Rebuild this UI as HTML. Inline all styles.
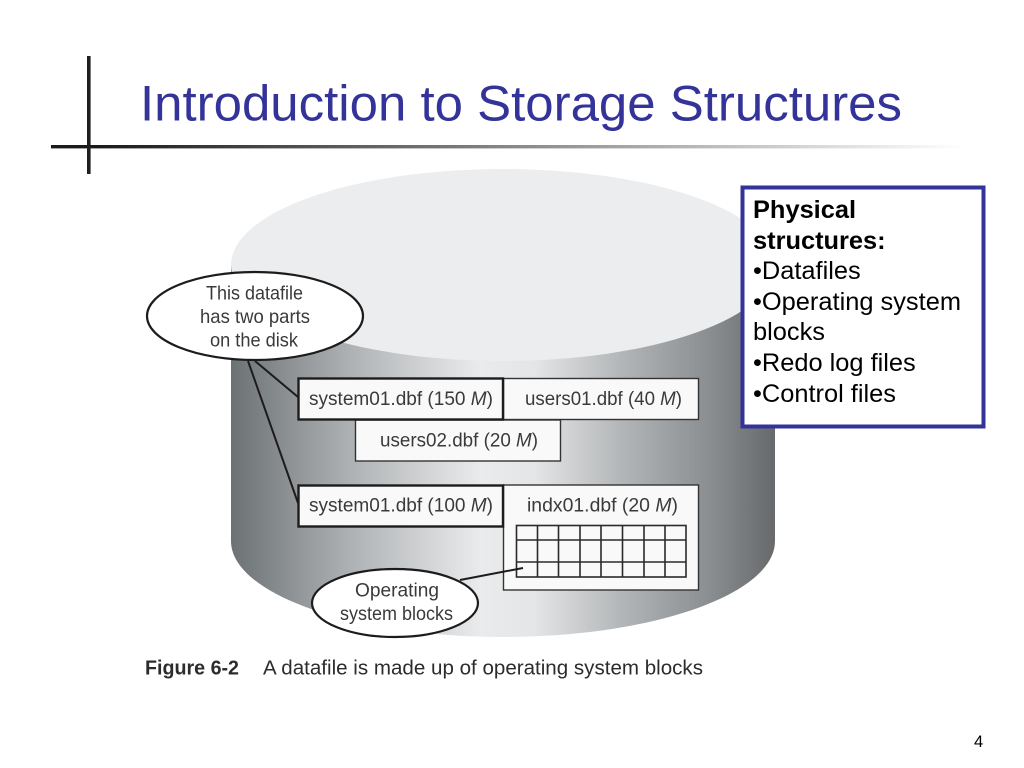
<!DOCTYPE html>
<html>
<head>
<meta charset="utf-8">
<style>
html,body{margin:0;padding:0;background:#fff;width:1024px;height:768px;overflow:hidden}
svg{display:block}
.fig{font-family:"Liberation Sans",sans-serif;font-size:19.5px;fill:#3a3a3a}
.b{font-family:"Liberation Sans",sans-serif;font-size:25.4px;fill:#000}
</style>
</head>
<body>
<svg width="1024" height="768" viewBox="0 0 1024 768" xmlns="http://www.w3.org/2000/svg">
<defs>
<linearGradient id="cyl" x1="231" x2="775" y1="0" y2="0" gradientUnits="userSpaceOnUse">
<stop offset="0" stop-color="#6c7173"/>
<stop offset=".13" stop-color="#94989a"/>
<stop offset=".24" stop-color="#b4b7b9"/>
<stop offset=".46" stop-color="#eaebec"/>
<stop offset=".56" stop-color="#e4e5e6"/>
<stop offset=".72" stop-color="#b2b5b7"/>
<stop offset=".88" stop-color="#8a8e90"/>
<stop offset="1" stop-color="#67696b"/>
</linearGradient>
<linearGradient id="rule" x1="51" x2="965" y1="0" y2="0" gradientUnits="userSpaceOnUse">
<stop offset="0" stop-color="#1a1a1a"/>
<stop offset=".05" stop-color="#1a1a1a"/>
<stop offset="1" stop-color="#ffffff"/>
</linearGradient>
</defs>

<rect x="51" y="145" width="914" height="3.4" fill="url(#rule)"/>
<rect x="87" y="56" width="3.6" height="118" fill="#1f1f1f"/>
<text x="140" y="120.500" font-family="'Liberation Sans',sans-serif" font-size="50" fill="#333399" textLength="762" lengthAdjust="spacingAndGlyphs">Introduction to Storage Structures</text>

<path d="M231 265V541C231 594 353 637 503 637S775 594 775 541V265Z" fill="url(#cyl)"/>
<ellipse cx="503" cy="265" rx="272" ry="96" fill="#ecedef"/>

<g stroke="#333" stroke-width="1.4" fill="#f9f9fa">
<rect x="503.500" y="378.500" width="195" height="41"/>
<rect x="355.500" y="420" width="205" height="41"/>
<rect x="503.500" y="485" width="195" height="105"/>
</g>
<g stroke="#1c1c1c" stroke-width="2.4" fill="#f9f9fa">
<rect x="298.500" y="378.500" width="204.500" height="41"/>
<rect x="298.500" y="485.500" width="204.500" height="41"/>
</g>

<g stroke="#2a2a2a" stroke-width="1.600" fill="none">
<rect x="516.500" y="525.500" width="169.500" height="51.500"/>
<path d="M537.500 525.500V577M558.500 525.500V577M580 525.500V577M601 525.500V577M622.500 525.500V577M644 525.500V577M665 525.500V577"/>
<path d="M516.500 540H686M516.500 562H686"/>
</g>

<g stroke="#1c1c1c" stroke-width="2" fill="none">
<line x1="255" y1="361" x2="298" y2="397"/>
<line x1="248" y1="361" x2="298" y2="503"/>
<line x1="460" y1="580" x2="523" y2="568"/>
</g>

<ellipse cx="255" cy="316" rx="108" ry="44" fill="#fff" stroke="#1c1c1c" stroke-width="2.2"/>
<ellipse cx="395" cy="603" rx="83" ry="34" fill="#fff" stroke="#1c1c1c" stroke-width="2.2"/>

<g class="fig">
<text x="206" y="299.500" textLength="97" lengthAdjust="spacingAndGlyphs">This datafile</text>
<text x="200" y="323" textLength="110" lengthAdjust="spacingAndGlyphs">has two parts</text>
<text x="210" y="346.500" textLength="88" lengthAdjust="spacingAndGlyphs">on the disk</text>
<text x="309" y="405" textLength="184" lengthAdjust="spacingAndGlyphs">system01.dbf (150 <tspan font-style="italic">M</tspan>)</text>
<text x="525" y="405" textLength="157" lengthAdjust="spacingAndGlyphs">users01.dbf (40 <tspan font-style="italic">M</tspan>)</text>
<text x="380" y="446.500" textLength="158" lengthAdjust="spacingAndGlyphs">users02.dbf (20 <tspan font-style="italic">M</tspan>)</text>
<text x="309" y="511.500" textLength="184" lengthAdjust="spacingAndGlyphs">system01.dbf (100 <tspan font-style="italic">M</tspan>)</text>
<text x="527" y="511.500" textLength="151" lengthAdjust="spacingAndGlyphs">indx01.dbf (20 <tspan font-style="italic">M</tspan>)</text>
<text x="355" y="596.500" textLength="84" lengthAdjust="spacingAndGlyphs">Operating</text>
<text x="340" y="620" textLength="113" lengthAdjust="spacingAndGlyphs">system blocks</text>
<text x="145" y="674.500" font-weight="bold" fill="#2c2c2c" textLength="94" lengthAdjust="spacingAndGlyphs" style="font-size:20px">Figure 6-2</text>
<text x="263" y="674.500" fill="#2c2c2c" textLength="440" lengthAdjust="spacingAndGlyphs" style="font-size:20px">A datafile is made up of operating system blocks</text>
</g>

<rect x="742.500" y="187.500" width="241" height="239" fill="#fff" stroke="#333399" stroke-width="4"/>
<g class="b">
<text x="753" y="218" font-weight="bold">Physical</text>
<text x="753" y="249" font-weight="bold">structures:</text>
<text x="753" y="279">•Datafiles</text>
<text x="753" y="310" textLength="208" lengthAdjust="spacingAndGlyphs">•Operating system</text>
<text x="753" y="340">blocks</text>
<text x="753" y="371">•Redo log files</text>
<text x="753" y="402">•Control files</text>
</g>

<text x="974" y="747" font-family="'Liberation Sans',sans-serif" font-size="16.500" fill="#000">4</text>
</svg>
</body>
</html>
